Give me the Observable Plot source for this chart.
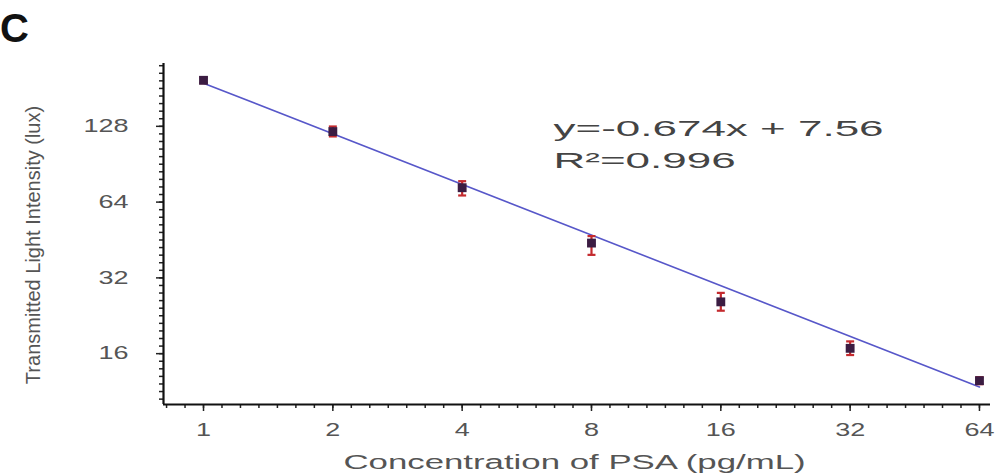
<!DOCTYPE html>
<html><head><meta charset="utf-8">
<script src="https://cdn.jsdelivr.net/npm/d3@7"></script>
<script src="https://cdn.jsdelivr.net/npm/@observablehq/plot@0.6"></script>
<style>
body{margin:0;background:#fff;}
#wrap{position:relative;width:995px;height:475px;overflow:hidden;background:#fff;}
#panel{position:absolute;left:0px;top:8px;font:bold 40px "Liberation Sans",Arial,sans-serif;color:#111;line-height:1;}
</style></head><body>
<div id="wrap"><div id="panel">C</div></div>
<script>
// ---- data ----
const concentrations = [1, 2, 4, 8, 16, 32, 64];
const intensity      = [195, 122, 73, 44, 25.7, 16.8, 12.5];
const errLow         = [190, 116.7, 68, 39.5, 23.7, 15.8, 12.1];
const errHigh        = [200, 127.8, 77.5, 46.9, 27.9, 17.9, 12.9];
const xTicks = [1, 2, 4, 8, 16, 32, 64];
const yTicks = [16, 32, 64, 128];
const fitX = [1, 64];
const fitY = [190, 11.8];
const equationLines = ["y=-0.674x + 7.56", "R²=0.996"];
const xTitle = "Concentration of PSA (pg/mL)";
const yTitle = "Transmitted Light Intensity (lux)";

const points = concentrations.map((x, i) => ({x, y: intensity[i], lo: errLow[i], hi: errHigh[i]}));
const fit = fitX.map((x, i) => ({x, y: fitY[i]}));

const xDomain = [0.807, 67.9];
const yDomain = [10.05, 227.4];
const minor = (dom, steps) => {
  const out = [];
  for (let k = Math.ceil(Math.log2(dom[0]) * steps); k <= Math.floor(Math.log2(dom[1]) * steps); k++) out.push(2 ** (k / steps));
  return out;
};
const xMinor = minor(xDomain, 7);
const yMinor = minor(yDomain, 10);

const cap = {draw(ctx, size) { const w = Math.sqrt(size); ctx.moveTo(-w / 2, 0); ctx.lineTo(w / 2, 0); }};
const font = '"Liberation Sans", Arial, sans-serif';
const blank = () => "";

const plot = Plot.plot({
  width: 995, height: 475,
  marginLeft: 163, marginRight: 5, marginTop: 63, marginBottom: 71,
  style: {fontFamily: font, background: "transparent", overflow: "visible"},
  x: {type: "log", base: 2, domain: xDomain},
  y: {type: "log", base: 2, domain: yDomain},
  marks: [
    Plot.axisX(xMinor, {anchor: "bottom", tickSize: 4, tickFormat: blank, stroke: "#222", strokeWidth: 1.5, label: null}),
    Plot.axisX(xTicks, {anchor: "bottom", tickSize: 7, tickFormat: blank, stroke: "#222", strokeWidth: 1.5, label: null}),
    Plot.axisY(yMinor, {anchor: "left", tickSize: 4, tickFormat: blank, stroke: "#222", strokeWidth: 1.5, label: null}),
    Plot.axisY(yTicks, {anchor: "left", tickSize: 7, tickFormat: blank, stroke: "#222", strokeWidth: 1.5, label: null}),
    Plot.text(xTicks, {x: d => d, text: d => String(d), frameAnchor: "bottom", dy: 19, lineAnchor: "top", textAnchor: "middle", fontSize: 18, fontFamily: font, fill: "#555"}),
    Plot.text(yTicks, {y: d => d, text: d => String(d), frameAnchor: "left", dx: -35, lineAnchor: "middle", textAnchor: "end", fontSize: 18, fontFamily: font, fill: "#555"}),
    Plot.ruleY([yDomain[0]], {stroke: "#111", strokeWidth: 2.2}),
    Plot.ruleX([xDomain[0]], {stroke: "#111", strokeWidth: 2.2}),
    Plot.line(fit, {x: "x", y: "y", stroke: "#5757c9", strokeWidth: 1.6}),
    Plot.ruleX(points, {x: "x", y1: "lo", y2: "hi", stroke: "#c42a2e", strokeWidth: 2.2}),
    Plot.dot(points, {x: "x", y: "lo", symbol: cap, r: 4.5, stroke: "#c42a2e", strokeWidth: 2.2, fill: "none"}),
    Plot.dot(points, {x: "x", y: "hi", symbol: cap, r: 4.5, stroke: "#c42a2e", strokeWidth: 2.2, fill: "none"}),
    Plot.dot(points, {x: "x", y: "y", symbol: "square", r: 5, fill: "#3b1c42", stroke: "none"}),
    Plot.text([equationLines[0]], {frameAnchor: "top-left", dx: 390, dy: 57, lineAnchor: "top", textAnchor: "start", fontSize: 22, fontFamily: font, fill: "#444"}),
    Plot.text([equationLines[1]], {frameAnchor: "top-left", dx: 390, dy: 89, lineAnchor: "top", textAnchor: "start", fontSize: 22, fontFamily: font, fill: "#444"}),
    Plot.text([xTitle], {frameAnchor: "bottom", dx: -2.5, dy: 50, lineAnchor: "top", textAnchor: "middle", fontSize: 20, fontFamily: font, fill: "#555"}),
    Plot.text([yTitle], {frameAnchor: "left", dx: -130, dy: 11, rotate: -90, lineAnchor: "middle", textAnchor: "middle", fontSize: 20, fontFamily: font, fill: "#555"})
  ]
});
document.getElementById("wrap").appendChild(plot);

// horizontally widen texts (reference glyphs are stretched sideways):
// wrap each text in a <g> scaled about its anchor point.
const factors = new Map();
xTicks.concat(yTicks).forEach(v => factors.set(String(v), 1.5));
equationLines.forEach(s => factors.set(s, 2.0));
factors.set(xTitle, 1.74);
const NS = "http://www.w3.org/2000/svg";
Array.from(plot.querySelectorAll("text")).forEach(t => {
  const f = factors.get(t.textContent.trim());
  if (!f) return;
  const parent = t.parentNode;
  const r = t.getBoundingClientRect();
  const anchor = getComputedStyle(t).textAnchor || "start";
  const sx = anchor === "end" ? r.right : anchor === "middle" ? (r.left + r.right) / 2 : r.left;
  const sy = (r.top + r.bottom) / 2;
  const pt = plot.createSVGPoint(); pt.x = sx; pt.y = sy;
  const p = pt.matrixTransform(parent.getScreenCTM().inverse());
  const g = document.createElementNS(NS, "g");
  g.setAttribute("transform", `translate(${p.x},${p.y}) scale(${f},1) translate(${-p.x},${-p.y})`);
  parent.insertBefore(g, t);
  g.appendChild(t);
});
</script>
</body></html>
